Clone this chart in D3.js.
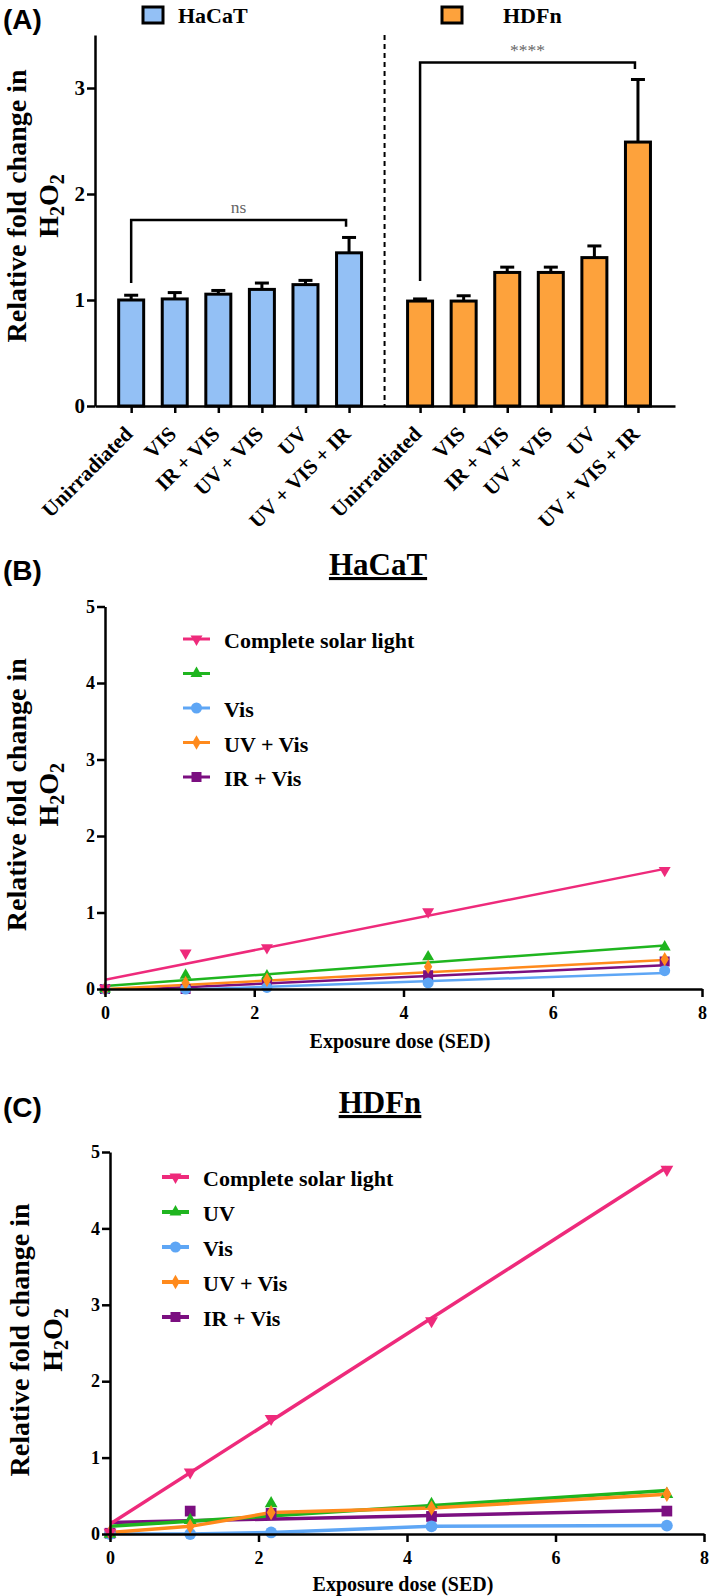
<!DOCTYPE html>
<html>
<head>
<meta charset="utf-8">
<script src="https://d3js.org/d3.v7.min.js"></script>
<style>
  body { margin: 0; background: #fff; }
  svg text { font-weight: bold; fill: #000; }
</style>
</head>
<body>
<div id="chart"></div>
<script>
// ---- panel A data (bar chart) ----
const barCategories = ["Unirradiated", "VIS", "IR + VIS", "UV + VIS", "UV", "UV + VIS + IR"];
const hacatMeans = [1.00, 1.01, 1.055, 1.10, 1.145, 1.445];
const hacatErrors = [0.045, 0.06, 0.035, 0.06, 0.04, 0.145];
const hdfnMeans = [0.99, 0.99, 1.26, 1.26, 1.40, 2.49];
const hdfnErrors = [0.02, 0.05, 0.05, 0.05, 0.11, 0.59];
const barTicks = [0, 1, 2, 3];
const groupNames = ["HaCaT", "HDFn"];
const bracketLabels = ["ns", "****"];
const bracketTops = [1.755, 3.24];
const bracketLeftEnds = [1.16, 1.18];
const bracketRightEnds = [1.69, 3.18];

// ---- panels B and C data (dose response) ----
const doseSED = [0, 1.08, 2.17, 4.33, 7.5];
const fitDose = [0, 7.5];
const doseTicks = [0, 2, 4, 6, 8];
const foldTicks = [0, 1, 2, 3, 4, 5];
const legendNamesB = ["Complete solar light", "", "Vis", "UV + Vis", "IR + Vis"];
const legendNamesC = ["Complete solar light", "UV", "Vis", "UV + Vis", "IR + Vis"];

const hacatSolar = [0.01, 0.47, 0.54, 1.01, 1.55];
const hacatUV = [0.0, 0.18, 0.17, 0.42, 0.55];
const hacatVis = [0.0, 0.0, 0.02, 0.08, 0.24];
const hacatUVVis = [0.0, 0.08, 0.12, 0.29, 0.39];
const hacatIRVis = [0.0, 0.0, 0.09, 0.18, 0.36];
const hacatFits = [[0.12, 1.57], [0.04, 0.57], [-0.045, 0.21], [0.0, 0.38], [-0.025, 0.31]];

const hdfnSolar = [0.02, 0.81, 1.51, 2.79, 4.77];
const hdfnUV = [0.0, 0.18, 0.40, 0.39, 0.52];
const hdfnVis = [0.0, 0.0, 0.02, 0.10, 0.11];
const hdfnUVVis = [0.02, 0.10, 0.28, 0.34, 0.52];
const hdfnIRVis = [0.01, 0.30, 0.27, 0.23, 0.30];
// null = line joins the points instead of a fitted line
const hdfnFits = [[0.13, 4.8], [0.1, 0.57], null, null, [0.15, 0.31]];

const seriesColors = ["#ee2a7b", "#1fb51f", "#5ea6f5", "#ff8a1c", "#7b0f80"];
const seriesSymbols = ["triDown", "triUp", "circle", "diamond", "square"];

const serif = '"Liberation Serif", Tinos, "Times New Roman", Times, serif';
const sans = '"Liberation Sans", Arimo, Arial, sans-serif';

const svg = d3.select("#chart").append("svg")
  .attr("width", 709)
  .attr("height", 1596);

// helper: bold serif axis styling
function styleAxis(g, fontSize) {
  g.attr("font-family", null).attr("font-size", null);
  g.selectAll("path, line").attr("stroke", "#000").attr("stroke-width", 2.5);
  g.selectAll("text").style("font-size", fontSize + "px").attr("fill", "#000");
}

// helper: two-line rotated y label with H2O2
function yLabel(cx, cy, x2) {
  const g = svg.append("g").attr("transform", `translate(${cx},${cy}) rotate(-90)`);
  g.append("text").attr("text-anchor", "middle").attr("y", 0)
    .style("font-size", "28px").text("Relative fold change in");
  const t = g.append("text").attr("text-anchor", "middle").attr("y", x2 - cx)
    .style("font-size", "28px");
  t.append("tspan").text("H");
  t.append("tspan").attr("dy", 6).style("font-size", "20px").text("2");
  t.append("tspan").attr("dy", -6).text("O");
  t.append("tspan").attr("dy", 6).style("font-size", "20px").text("2");
}

function symbolPath(kind, big) {
  const k = big ? 1.15 : 1;
  if (kind === "triDown" || kind === "triUp") return d3.symbol(d3.symbolTriangle, 62 * k)();
  if (kind === "circle") return d3.symbol(d3.symbolCircle, 95 * k)();
  if (kind === "diamond") return d3.symbol(d3.symbolDiamond, 60 * k)();
  return d3.symbol(d3.symbolSquare, 100 * k)();
}

// =================== PANEL A ===================
const yA = d3.scaleLinear().domain([0, 3.5]).range([406, 35]);
const xA = d3.scaleLinear().domain([-0.83, 12.48]).range([95, 675]);
const blueSlots = barCategories.map((c, i) => i);
const orangeSlots = barCategories.map((c, i) => 6.63 + i);
const allSlots = blueSlots.concat(orangeSlots);
const allLabels = barCategories.concat(barCategories);

svg.append("text").attr("class", "tag").attr("x", 3).attr("y", 29)
  .style("font-size", "28px").text("(A)");

// legend squares
const legendA = [
  { name: groupNames[0], fill: "#93c0f5", x: 143, tx: 178 },
  { name: groupNames[1], fill: "#fda23c", x: 442, tx: 503 }
];
legendA.forEach(d => {
  svg.append("rect").attr("x", d.x).attr("y", 7).attr("width", 20).attr("height", 16)
    .attr("fill", d.fill).attr("stroke", "#000").attr("stroke-width", 3);
  svg.append("text").attr("x", d.tx).attr("y", 23).style("font-size", "22px").text(d.name);
});

yLabel(26, 206, 58);

const axA = svg.append("g").attr("transform", "translate(95,0)")
  .call(d3.axisLeft(yA).tickValues(barTicks).tickFormat(d3.format("d"))
    .tickSize(8).tickPadding(2).tickSizeOuter(0));
styleAxis(axA, 21);

const axAx = svg.append("g").attr("transform", "translate(0,406)")
  .call(d3.axisBottom(xA).tickValues(allSlots).tickSize(7).tickSizeOuter(0)
    .tickFormat((d, i) => allLabels[i]));
styleAxis(axAx, 21);
axAx.selectAll("text")
  .attr("x", 0).attr("y", 0).attr("dy", "0.35em")
  .attr("text-anchor", "end")
  .attr("transform", "translate(-3,24) rotate(-45)");

// dashed divider
svg.append("line")
  .attr("x1", xA(5.815)).attr("x2", xA(5.815))
  .attr("y1", yA(3.5)).attr("y2", yA(0))
  .attr("stroke", "#000").attr("stroke-width", 2).attr("stroke-dasharray", "5,4");

const bw = 25;
function drawBars(slots, means, errs, fill) {
  const g = svg.append("g");
  means.forEach((m, i) => {
    const cx = xA(slots[i]);
    g.append("line").attr("x1", cx).attr("x2", cx)
      .attr("y1", yA(m)).attr("y2", yA(m + errs[i]))
      .attr("stroke", "#000").attr("stroke-width", 3);
    g.append("line").attr("x1", cx - 7).attr("x2", cx + 7)
      .attr("y1", yA(m + errs[i])).attr("y2", yA(m + errs[i]))
      .attr("stroke", "#000").attr("stroke-width", 3);
    g.append("rect").attr("x", cx - bw / 2).attr("width", bw)
      .attr("y", yA(m)).attr("height", yA(0) - yA(m))
      .attr("fill", fill).attr("stroke", "#000").attr("stroke-width", 3);
  });
}
drawBars(blueSlots, hacatMeans, hacatErrors, "#93c0f5");
drawBars(orangeSlots, hdfnMeans, hdfnErrors, "#fda23c");
axAx.raise();

// significance brackets
[[blueSlots[0], blueSlots[5]], [orangeSlots[0], orangeSlots[5]]].forEach((pair, i) => {
  const x0 = xA(pair[0]), x1 = xA(pair[1]) - 3;
  svg.append("path")
    .attr("d", `M${x0},${yA(bracketLeftEnds[i])}V${yA(bracketTops[i])}H${x1}V${yA(bracketRightEnds[i])}`)
    .attr("fill", "none").attr("stroke", "#000").attr("stroke-width", 2.5);
  svg.append("text").attr("x", (x0 + x1) / 2).attr("y", yA(bracketTops[i]) - 7)
    .attr("text-anchor", "middle")
    .style("font-weight", "normal").style("font-size", "17.5px").style("fill", "#666")
    .text(bracketLabels[i]);
});

// =================== PANELS B & C ===================
function linePanel(opt) {
  const x = d3.scaleLinear().domain([0, 8]).range(opt.xr);
  const y = d3.scaleLinear().domain([0, 5]).range(opt.yr);

  svg.append("text").attr("class", "tag").attr("x", 3).attr("y", opt.tagY)
    .style("font-size", "28px").text(opt.tag);
  svg.append("text").attr("x", opt.titleX).attr("y", opt.titleY).attr("text-anchor", "middle")
    .style("font-size", "31px").style("text-decoration", "underline").text(opt.title);

  yLabel(opt.labX1, (opt.yr[0] + opt.yr[1]) / 2 - 3, opt.labX2);

  const clipId = "clip" + opt.tag.replace(/\W/g, "");
  svg.append("clipPath").attr("id", clipId).append("rect")
    .attr("x", opt.xr[0]).attr("y", opt.yr[1])
    .attr("width", opt.xr[1] - opt.xr[0]).attr("height", opt.yr[0] - opt.yr[1]);

  const series = opt.values.map((v, i) => ({
    name: opt.names[i], color: seriesColors[i], symbol: seriesSymbols[i],
    values: v, fit: opt.fits[i]
  }));
  const order = [4, 2, 1, 3, 0];
  const line = d3.line().x(d => x(d[0])).y(d => y(d[1]));

  order.forEach(i => {
    const s = series[i];
    const pts = s.fit ? fitDose.map((d, j) => [d, s.fit[j]]) : doseSED.map((d, j) => [d, s.values[j]]);
    svg.append("path").datum(pts).attr("d", line)
      .attr("clip-path", `url(#${clipId})`)
      .attr("fill", "none").attr("stroke", s.color).attr("stroke-width", opt.lw);
  });
  order.forEach(i => {
    const s = series[i];
    svg.append("g").selectAll("path").data(s.values).join("path")
      .attr("d", symbolPath(s.symbol, opt.big))
      .attr("transform", (d, j) => `translate(${x(doseSED[j])},${y(d)})` + (s.symbol === "triDown" ? " rotate(180)" : ""))
      .attr("fill", s.color);
  });

  const ax = svg.append("g").attr("transform", `translate(${opt.xr[0]},0)`)
    .call(d3.axisLeft(y).tickValues(foldTicks).tickFormat(d3.format("d"))
      .tickSize(8).tickPadding(2).tickSizeOuter(0));
  styleAxis(ax, 18);
  const axx = svg.append("g").attr("transform", `translate(0,${opt.yr[0]})`)
    .call(d3.axisBottom(x).tickValues(doseTicks).tickFormat(d3.format("d"))
      .tickSize(8).tickPadding(9).tickSizeOuter(0));
  styleAxis(axx, 18);

  svg.append("text").attr("x", opt.xTitleX).attr("y", opt.xTitleY).attr("text-anchor", "middle")
    .style("font-size", "20px").text("Exposure dose (SED)");

  // legend
  series.forEach((s, i) => {
    const ly = opt.legY + i * opt.legStep;
    svg.append("line").attr("x1", opt.legX).attr("x2", opt.legX + 27)
      .attr("y1", ly).attr("y2", ly).attr("stroke", s.color).attr("stroke-width", opt.lw + 0.5);
    svg.append("path").attr("d", symbolPath(s.symbol, false))
      .attr("transform", `translate(${opt.legX + 13.5},${ly})` + (s.symbol === "triDown" ? " rotate(180)" : ""))
      .attr("fill", s.color);
    svg.append("text").attr("x", opt.legX + 41).attr("y", ly + 9)
      .style("font-size", "22px").text(s.name);
  });
}

linePanel({
  tag: "(B)", tagY: 580, title: "HaCaT", titleX: 378, titleY: 575,
  xr: [105, 702], yr: [989, 606.5], lw: 2.5, big: false,
  labX1: 26, labX2: 58,
  values: [hacatSolar, hacatUV, hacatVis, hacatUVVis, hacatIRVis], fits: hacatFits,
  names: legendNamesB, legX: 183, legY: 639, legStep: 34.5,
  xTitleX: 400, xTitleY: 1048
});

linePanel({
  tag: "(C)", tagY: 1117, title: "HDFn", titleX: 380, titleY: 1113,
  xr: [110, 704], yr: [1534, 1152], lw: 3.5, big: true,
  labX1: 29, labX2: 62,
  values: [hdfnSolar, hdfnUV, hdfnVis, hdfnUVVis, hdfnIRVis], fits: hdfnFits,
  names: legendNamesC, legX: 162, legY: 1177, legStep: 35,
  xTitleX: 403, xTitleY: 1591
});

// fonts set inline on every text node
svg.selectAll("text").style("font-family", serif).style("font-weight", function () {
  return this.style.fontWeight || "bold";
});
svg.selectAll("text.tag").style("font-family", sans);
</script>
</body>
</html>
